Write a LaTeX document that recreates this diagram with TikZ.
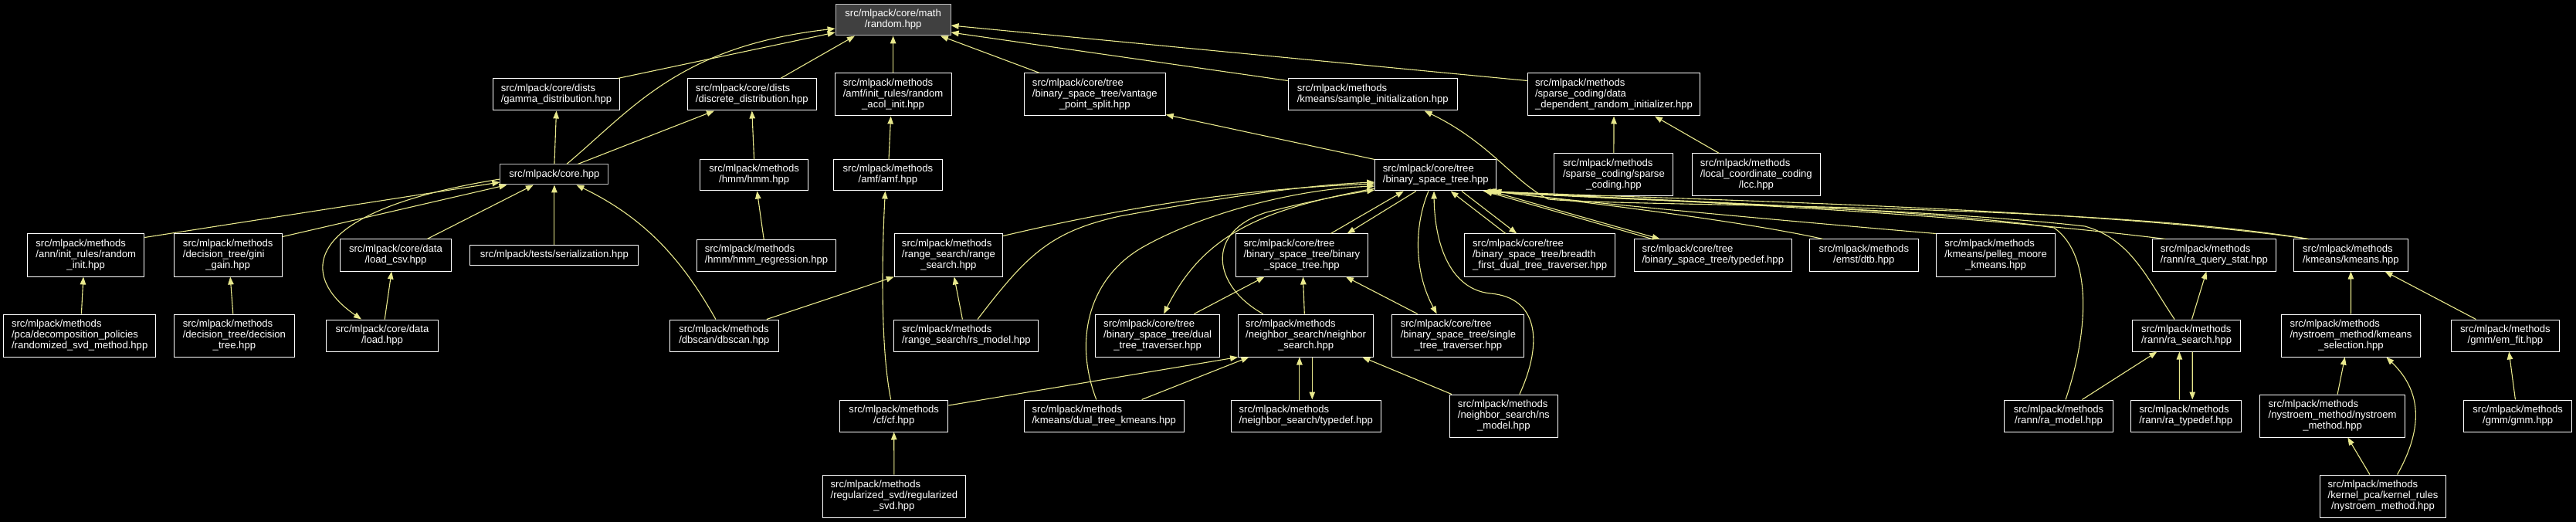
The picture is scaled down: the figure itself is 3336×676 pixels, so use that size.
\documentclass[tikz,border=0pt]{standalone}
\usepackage{fontspec}
\setmainfont{Liberation Sans}
\usetikzlibrary{arrows.meta,calc}
\definecolor{edgecol}{RGB}{232,232,140}
\definecolor{rootfill}{RGB}{64,64,64}
\definecolor{rootdraw}{RGB}{191,191,191}
\newcommand{\twol}[2]{\begin{tabular}{@{}l@{}}#1\\\multicolumn{1}{@{}c@{}}{#2}\end{tabular}}
\newcommand{\threel}[3]{\begin{tabular}{@{}l@{}}#1\\#2\\\multicolumn{1}{@{}c@{}}{#3}\end{tabular}}
\begin{document}
\begin{tikzpicture}[x=1pt,y=-1pt,
  box/.style={draw=white, fill=black, text=white, line width=1pt, inner sep=0pt, font=\fontsize{13.1}{14}\selectfont},
  sz/.style n args={2}{minimum width=#1pt, minimum height=#2pt},
  dep/.style={draw=edgecol, line width=1.1pt, -{Triangle[length=10pt,width=7.5pt]}}]
\fill[black] (0,0) rectangle (3336,676);
\useasboundingbox (0,0) rectangle (3336,676);
% nodes
\node[box,sz={149}{40},fill=rootfill,draw=rootdraw] (root) at (1156.6,26) {\twol{src/mlpack/core/math}{/random.hpp}};
\node[box,sz={164.7}{41}] (gamma) at (720.5,122.5) {\twol{src/mlpack/core/dists}{/gamma\_distribution.hpp}};
\node[box,sz={166.7}{41}] (discrete) at (973.8,122.5) {\twol{src/mlpack/core/dists}{/discrete\_distribution.hpp}};
\node[box,sz={151}{55}] (acol) at (1156.6,122.5) {\threel{src/mlpack/methods}{/amf/init\_rules/random}{\_acol\_init.hpp}};
\node[box,sz={182.9}{55}] (vantage) at (1417.8,122.5) {\threel{src/mlpack/core/tree}{/binary\_space\_tree/vantage}{\_point\_split.hpp}};
\node[box,sz={218.9}{41}] (sampleinit) at (1777.7,122.5) {\twol{src/mlpack/methods}{/kmeans/sample\_initialization.hpp}};
\node[box,sz={223.6}{55}] (datadep) at (2090,122.5) {\threel{src/mlpack/methods}{/sparse\_coding/data}{\_dependent\_random\_initializer.hpp}};
\node[box,sz={140}{26},draw=rootdraw] (core) at (717.9,226) {src/mlpack/core.hpp};
\node[box,sz={140.4}{40}] (hmm) at (976.6,227) {\twol{src/mlpack/methods}{/hmm/hmm.hpp}};
\node[box,sz={141}{40}] (amf) at (1149.9,227) {\twol{src/mlpack/methods}{/amf/amf.hpp}};
\node[box,sz={157.2}{40}] (hub) at (1859.3,227) {\twol{src/mlpack/core/tree}{/binary\_space\_tree.hpp}};
\node[box,sz={153.9}{55}] (sparse) at (2089.9,226.5) {\threel{src/mlpack/methods}{/sparse\_coding/sparse}{\_coding.hpp}};
\node[box,sz={165.7}{55}] (lcc) at (2274.3,226.5) {\threel{src/mlpack/methods}{/local\_coordinate\_coding}{/lcc.hpp}};
\node[box,sz={151.1}{55}] (randinit) at (111.25,330.5) {\threel{src/mlpack/methods}{/ann/init\_rules/random}{\_init.hpp}};
\node[box,sz={140.4}{55}] (gini) at (295.2,330.5) {\threel{src/mlpack/methods}{/decision\_tree/gini}{\_gain.hpp}};
\node[box,sz={144.2}{41}] (loadcsv) at (512.5,330.5) {\twol{src/mlpack/core/data}{/load\_csv.hpp}};
\node[box,sz={218}{25}] (serial) at (717.9,330.5) {src/mlpack/tests/serialization.hpp};
\node[box,sz={180}{40}] (hmmreg) at (992.5,331) {\twol{src/mlpack/methods}{/hmm/hmm\_regression.hpp}};
\node[box,sz={140.4}{55}] (rangesearch) at (1228.4,330.5) {\threel{src/mlpack/methods}{/range\_search/range}{\_search.hpp}};
\node[box,sz={171}{55}] (bstbst) at (1685.9,330.5) {\threel{src/mlpack/core/tree}{/binary\_space\_tree/binary}{\_space\_tree.hpp}};
\node[box,sz={195.4}{55}] (breadth) at (1994.1,330.5) {\threel{src/mlpack/core/tree}{/binary\_space\_tree/breadth}{\_first\_dual\_tree\_traverser.hpp}};
\node[box,sz={204.3}{41}] (bsttypedef) at (2218.3,330.5) {\twol{src/mlpack/core/tree}{/binary\_space\_tree/typedef.hpp}};
\node[box,sz={141}{41}] (dtb) at (2413.8,330.5) {\twol{src/mlpack/methods}{/emst/dtb.hpp}};
\node[box,sz={154.3}{55}] (pelleg) at (2584.6,330.5) {\threel{src/mlpack/methods}{/kmeans/pelleg\_moore}{\_kmeans.hpp}};
\node[box,sz={159.3}{41}] (rqs) at (2867.4,330.5) {\twol{src/mlpack/methods}{/rann/ra\_query\_stat.hpp}};
\node[box,sz={147.5}{41}] (kmeans) at (3044.4,330.5) {\twol{src/mlpack/methods}{/kmeans/kmeans.hpp}};
\node[box,sz={197.2}{55}] (rsvd) at (103.2,434.5) {\threel{src/mlpack/methods}{/pca/decomposition\_policies}{/randomized\_svd\_method.hpp}};
\node[box,sz={155.4}{55}] (dectree) at (303.4,434.5) {\threel{src/mlpack/methods}{/decision\_tree/decision}{\_tree.hpp}};
\node[box,sz={144.2}{41}] (load) at (495,434.5) {\twol{src/mlpack/core/data}{/load.hpp}};
\node[box,sz={140.7}{41}] (dbscan) at (937.9,434.5) {\twol{src/mlpack/methods}{/dbscan/dbscan.hpp}};
\node[box,sz={187.1}{41}] (rsmodel) at (1251.4,434.5) {\twol{src/mlpack/methods}{/range\_search/rs\_model.hpp}};
\node[box,sz={160.4}{55}] (dtt) at (1499.1,434.5) {\threel{src/mlpack/core/tree}{/binary\_space\_tree/dual}{\_tree\_traverser.hpp}};
\node[box,sz={175}{55}] (ns) at (1691.1,434.5) {\threel{src/mlpack/methods}{/neighbor\_search/neighbor}{\_search.hpp}};
\node[box,sz={171}{55}] (single) at (1888.4,434.5) {\threel{src/mlpack/core/tree}{/binary\_space\_tree/single}{\_tree\_traverser.hpp}};
\node[box,sz={140}{41}] (rasearch) at (2831.6,434.5) {\twol{src/mlpack/methods}{/rann/ra\_search.hpp}};
\node[box,sz={180.7}{55}] (kmsel) at (3044.5,434.5) {\threel{src/mlpack/methods}{/nystroem\_method/kmeans}{\_selection.hpp}};
\node[box,sz={140.4}{41}] (emfit) at (3244.4,434.5) {\twol{src/mlpack/methods}{/gmm/em\_fit.hpp}};
\node[box,sz={140.4}{41}] (cf) at (1157.7,538.5) {\twol{src/mlpack/methods}{/cf/cf.hpp}};
\node[box,sz={206.8}{41}] (dtk) at (1429.8,538.5) {\twol{src/mlpack/methods}{/kmeans/dual\_tree\_kmeans.hpp}};
\node[box,sz={193.9}{41}] (nstypedef) at (1691.3,538.5) {\twol{src/mlpack/methods}{/neighbor\_search/typedef.hpp}};
\node[box,sz={140.4}{55}] (nsmodel) at (1947.3,538.5) {\threel{src/mlpack/methods}{/neighbor\_search/ns}{\_model.hpp}};
\node[box,sz={140.7}{41}] (ramodel) at (2666,538.5) {\twol{src/mlpack/methods}{/rann/ra\_model.hpp}};
\node[box,sz={143}{41}] (ratypedef) at (2830.7,538.5) {\twol{src/mlpack/methods}{/rann/ra\_typedef.hpp}};
\node[box,sz={188.5}{55}] (nysmeth) at (3020.6,538.5) {\threel{src/mlpack/methods}{/nystroem\_method/nystroem}{\_method.hpp}};
\node[box,sz={140.7}{41}] (gmm) at (3260.6,538.5) {\twol{src/mlpack/methods}{/gmm/gmm.hpp}};
\node[box,sz={184.3}{55}] (regsvd) at (1157.9,642.5) {\threel{src/mlpack/methods}{/regularized\_svd/regularized}{\_svd.hpp}};
\node[box,sz={163.6}{55}] (kpca) at (3086,642.5) {\threel{src/mlpack/methods}{/kernel\_pca/kernel\_rules}{/nystroem\_method.hpp}};
% edges into root
\draw[dep] ($(gamma.north)+(79.5,0)$) -- ($(root.west)+(0,16)$);
\draw[dep] ($(core.north)+(16,0)$) .. controls (820,140) and (880,60) .. ($(root.west)+(0,11)$);
\draw[dep] ($(discrete.north)+(37,0)$) -- ($(root.south)+(-49.6,0)$);
\draw[dep] (acol.north) -- (root.south);
\draw[dep] ($(vantage.north)+(-71.4,0)$) -- ($(root.south)+(61.3,0)$);
\draw[dep] ($(sampleinit.north west)+(0,3)$) -- ($(root.east)+(0,16)$);
\draw[dep] ($(datadep.north west)+(0,10)$) -- ($(root.east)+(0,7)$);
% core
\draw[dep] ($(randinit.north east)+(0,5)$) -- ($(core.west)+(0,10)$);
\draw[dep] ($(gini.north east)+(0,4)$) -- ($(core.south west)+(9,0)$);
\draw[dep] ($(core.west)+(0,6)$) .. controls (380,275) and (390,360) .. ($(load.north)+(-27,0)$);
\draw[dep] ($(loadcsv.north east)+(-32,0)$) -- ($(core.south)+(-27,0)$);
\draw[dep] (serial.north) -- (core.south);
\draw[dep] ($(dbscan.north)+(-11,0)$) .. controls (880,330) and (830,280) .. ($(core.south east)+(-42,0)$);
\draw[dep] (core.north) -- (gamma.south);
\draw[dep] ($(core.north)+(30.3,0)$) -- ($(discrete.south)+(-48.8,0)$);
\draw[dep] (hmm.north) -- (discrete.south);
\draw[dep] ($(hmmreg.north)+(-3.2,0)$) -- ($(hmm.south)+(3.8,0)$);
\draw[dep] ($(amf.north)+(1.1,0)$) -- ($(acol.south)+(-3,0)$);
\draw[dep] ($(cf.north)+(-4,0)$) .. controls (1140,450) and (1142,330) .. ($(amf.south)+(-3.5,0)$);
\draw[dep] (regsvd.north) -- (cf.south);
% range search
\draw[dep] ($(rsmodel.north)+(-5,0)$) -- ($(rangesearch.south)+(7.3,0)$);
\draw[dep] ($(dbscan.north)+(55,0)$) -- (rangesearch.south west);
\draw[dep] ($(rangesearch.north east)+(0,3)$) .. controls (1450,270) and (1600,245) .. ($(hub.west)+(0,11)$);
\draw[dep] ($(rsmodel.north)+(14.6,0)$) .. controls (1330,330) and (1360,300) .. (1450,280) .. controls (1560,260) and (1680,240) .. ($(hub.west)+(0,9)$);
\draw[dep] ($(dtk.north)+(-10,0)$) .. controls (1390,440) and (1410,360) .. (1480,320) .. controls (1560,275) and (1680,245) .. ($(hub.west)+(0,14)$);
\draw[dep] ($(hub.west)+(0,17)$) .. controls (1640,270) and (1560,300) .. ($(dtt.north)+(8,0)$);
\draw[dep] ($(ns.north)+(-55.4,0)$) .. controls (1570,370) and (1560,300) .. (1640,275) .. controls (1690,262) and (1740,252) .. ($(hub.west)+(0,19)$);
% hub bottom
\draw[dep] ($(bstbst.north)+(37.3,0)$) -- ($(hub.south)+(-41.4,0)$);
\draw[dep] ($(hub.south)+(-25.4,0)$) -- ($(bstbst.north)+(58.7,0)$);
\draw[dep] ($(hub.south)+(-9.3,0)$) .. controls (1832,290) and (1830,350) .. ($(single.north)+(-27.7,0)$);
\draw[dep] ($(nsmodel.north)+(20.6,0)$) .. controls (2000,440) and (1990,385) .. (1930,380) .. controls (1880,375) and (1858,320) .. ($(hub.south)+(-2.3,0)$);
\draw[dep] ($(breadth.north)+(-44.1,0)$) -- ($(hub.south)+(19.3,0)$);
\draw[dep] ($(hub.south)+(33.6,0)$) -- ($(breadth.north)+(-29.8,0)$);
\draw[dep] ($(bsttypedef.north west)+(24,0)$) -- ($(hub.south east)+(-16,0)$);
\draw[dep] ($(hub.south east)+(-8,0)$) -- ($(bsttypedef.north west)+(34,0)$);
\draw[dep] ($(dtb.north)+(-53,0)$) .. controls (2250,285) and (2050,262) .. ($(hub.south east)+(-4,0)$);
\draw[dep] (pelleg.north west) .. controls (2300,285) and (2050,262) .. ($(hub.south east)+(-6,0)$);
\draw[dep] ($(rqs.north west)+(17,0)$) .. controls (2500,272) and (2100,258) .. ($(hub.south east)+(-10,0)$);
\draw[dep] ($(kmeans.north west)+(19.4,0)$) .. controls (2700,268) and (2150,258) .. ($(hub.south east)+(-12,0)$);
\draw[dep] ($(kmeans.north west)+(19.4,0)$) .. controls (2700,262) and (2100,268) .. (2005,258) .. controls (1960,235) and (1930,185) .. ($(sampleinit.south)+(67,0)$);
\draw[dep] ($(ramodel.north)+(9,0)$) .. controls (2705,430) and (2710,330) .. (2660,295) .. controls (2500,270) and (2100,258) .. ($(hub.south east)+(-14,0)$);
\draw[dep] ($(rasearch.north west)+(55,0)$) .. controls (2780,360) and (2760,310) .. (2700,293) .. controls (2500,270) and (2100,260) .. ($(hub.south east)+(-18,0)$);
% rann
\draw[dep] ($(ramodel.north)+(30.4,0)$) -- ($(rasearch.south west)+(32.3,0)$);
\draw[dep] ($(rasearch.north)+(6.9,0)$) -- ($(rqs.south)+(-10,0)$);
\draw[dep] ($(ratypedef.north)+(-8.3,0)$) -- ($(rasearch.south)+(-9.2,0)$);
\draw[dep] ($(rasearch.south)+(7.6,0)$) -- ($(ratypedef.north)+(8.5,0)$);
% kmeans
\draw[dep] (kmsel.north) -- (kmeans.south);
\draw[dep] ($(emfit.north)+(-38,0)$) -- ($(kmeans.south)+(44.1,0)$);
\draw[dep] ($(nysmeth.north)+(6.5,0)$) -- ($(kmsel.south)+(-7.8,0)$);
\draw[dep] ($(kpca.north)+(-17.1,0)$) -- ($(nysmeth.south)+(19.7,0)$);
\draw[dep] ($(kpca.north)+(18.6,0)$) .. controls (3135,560) and (3140,510) .. ($(kmsel.south)+(45.8,0)$);
\draw[dep] ($(gmm.north)+(-3.2,0)$) -- ($(emfit.south)+(4.8,0)$);
% sparse coding
\draw[dep] (sparse.north) -- (datadep.south);
\draw[dep] ($(lcc.north west)+(35.4,0)$) -- ($(datadep.south)+(52.9,0)$);
% hub to vantage
\draw[dep] (hub.north west) -- ($(vantage.south east)+(0,-2)$);
% neighbor search
\draw[dep] ($(cf.east)+(0,-13.5)$) -- (ns.south west);
\draw[dep] ($(dtk.north)+(48.8,0)$) -- ($(ns.south west)+(14.3,0)$);
\draw[dep] ($(nstypedef.north)+(-8.4,0)$) -- ($(ns.south)+(-8.2,0)$);
\draw[dep] ($(ns.south)+(8.2,0)$) -- ($(nstypedef.north)+(8,0)$);
\draw[dep] ($(nsmodel.north west)+(3.3,0)$) -- ($(ns.south)+(73.2,0)$);
\draw[dep] ($(ns.north)+(-1.8,0)$) -- ($(bstbst.south)+(1.6,0)$);
\draw[dep] ($(single.north)+(-52.7,0)$) -- ($(bstbst.south)+(57,0)$);
\draw[dep] ($(dtt.north)+(47.3,0)$) -- ($(bstbst.south)+(-48.4,0)$);
% left
\draw[dep] ($(dectree.north)+(-1.6,0)$) -- ($(gini.south)+(3,0)$);
\draw[dep] ($(rsvd.north)+(2.2,0)$) -- ($(randinit.south)+(-3.3,0)$);
\draw[dep] ($(load.north)+(3.2,0)$) -- ($(loadcsv.south)+(-5.4,0)$);
\end{tikzpicture}
\end{document}
